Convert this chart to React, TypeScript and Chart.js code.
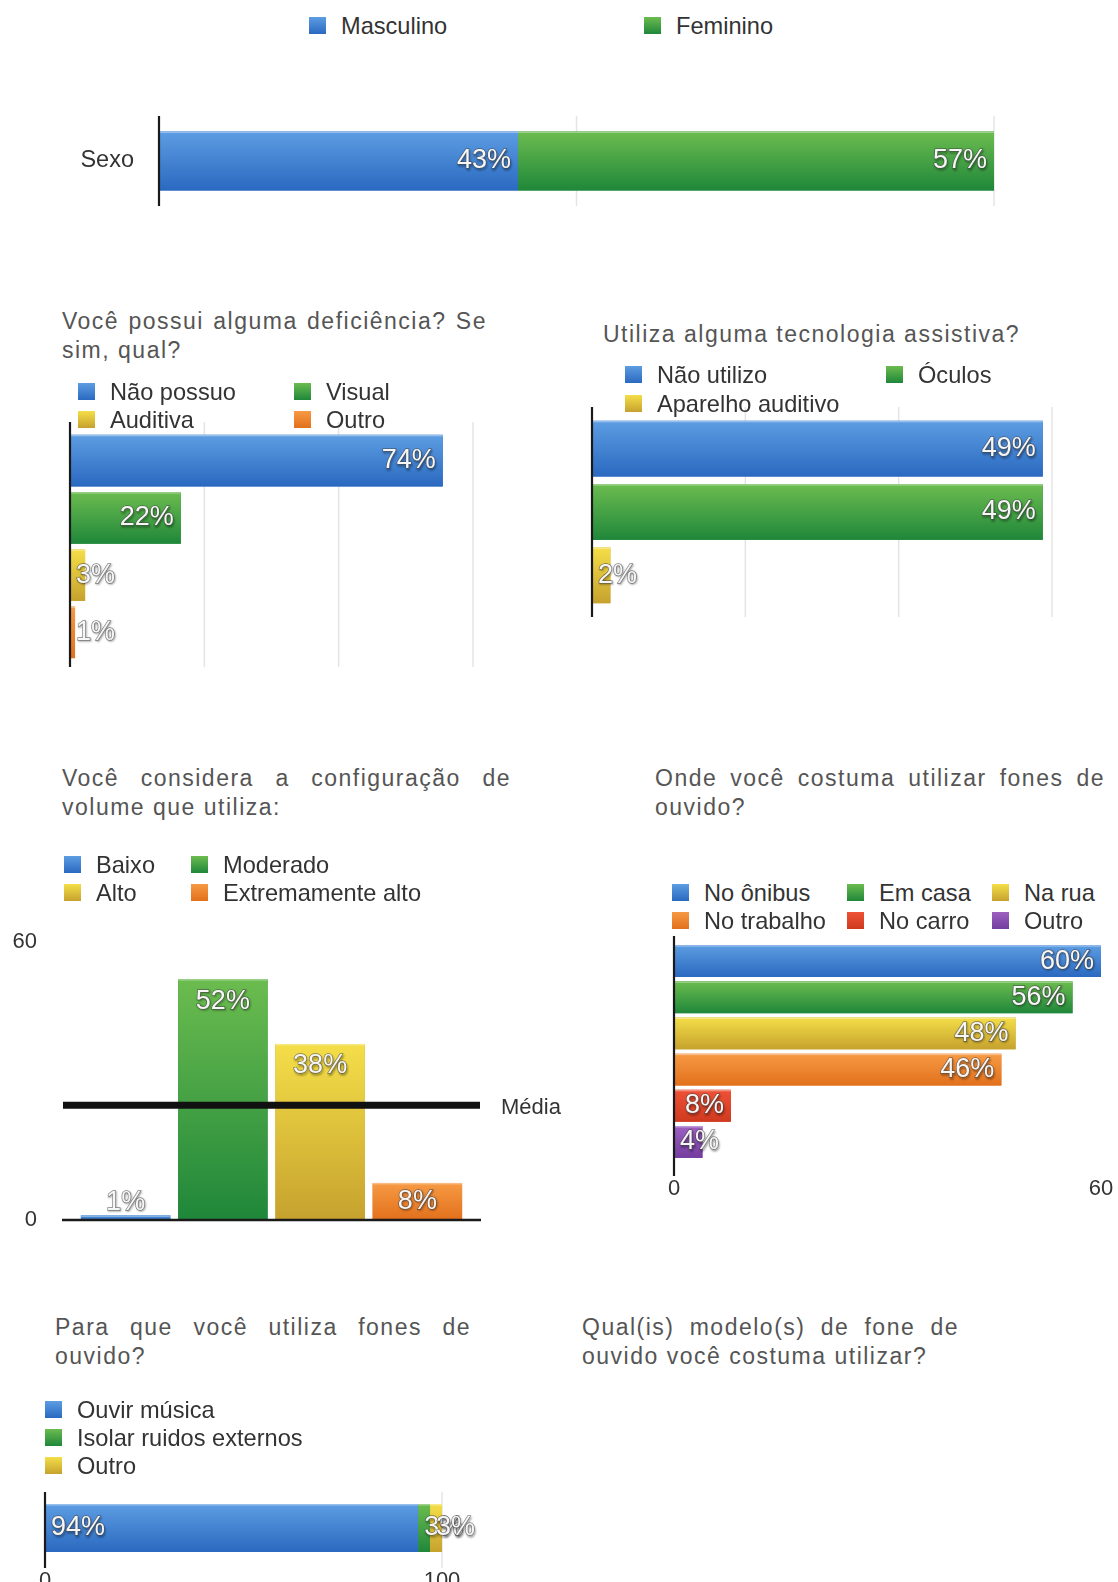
import React, { useEffect, useRef } from 'react';
import { Chart, registerables } from 'chart.js';

Chart.register(...registerables);

const FONT = '"Liberation Sans", Arial, Helvetica, sans-serif';

// ---------------- data ----------------
const sexoCategories = ['Sexo'];
const sexoSeries = ['Masculino', 'Feminino'];
const sexoValues = [43, 57];
const sexoGrid = [50, 100];

const deficienciaCategories = ['Não possuo', 'Visual', 'Auditiva', 'Outro'];
const deficienciaValues = [74, 22, 3, 1];
const deficienciaMax = 80;
const deficienciaGrid = [26.667, 53.333, 80];

const tecnologiaCategories = ['Não utilizo', 'Óculos', 'Aparelho auditivo'];
const tecnologiaValues = [49, 49, 2];
const tecnologiaMax = 50;
const tecnologiaGrid = [16.667, 33.333, 50];

const volumeCategories = ['Baixo', 'Moderado', 'Alto', 'Extremamente alto'];
const volumeValues = [1, 52, 38, 8];
const volumeMedia = 24.75;
const volumeMediaLabel = 'Média';
const volumeTicks = [0, 60];

const ondeCategories = ['No ônibus', 'Em casa', 'Na rua', 'No trabalho', 'No carro', 'Outro'];
const ondeValues = [60, 56, 48, 46, 8, 4];
const ondeTicks = [0, 60];

const paraQueCategories = ['Para que'];
const paraQueSeries = ['Ouvir música', 'Isolar ruidos externos', 'Outro'];
const paraQueValues = [94, 3, 3];
const paraQueTicks = [0, 100];
const paraQueGrid = [100];

// ---------------- colours ----------------
type Grad = [string, string];
const BLUE: Grad = ['#5d9de2', '#2a69c0'];
const GREEN: Grad = ['#6cbc4f', '#1f873a'];
const YELLOW: Grad = ['#f4de48', '#c6a22e'];
const ORANGE: Grad = ['#f79a44', '#e2701c'];
const RED: Grad = ['#ee5236', '#cf3a1f'];
const PURPLE: Grad = ['#9d60c0', '#733d9f'];
const mid = (g: Grad) => g[1];

// ---------------- plugin ----------------
type SurveyCfg = {
  grid?: number[];
  gridExt?: [number, number];
  axisExt?: [number, number];
  labels?: 'end' | 'start' | 'top';
  baselineExt?: number;
  media?: { value: number; label: string; ext: number; labelX: number };
};

function rectOf(el: any) {
  const p = el.getProps(['x', 'y', 'base', 'width', 'height', 'horizontal'], true);
  if (p.horizontal) {
    return {
      left: Math.min(p.x, p.base),
      right: Math.max(p.x, p.base),
      top: p.y - p.height / 2,
      bottom: p.y + p.height / 2,
    };
  }
  return {
    left: p.x - p.width / 2,
    right: p.x + p.width / 2,
    top: Math.min(p.y, p.base),
    bottom: Math.max(p.y, p.base),
  };
}

function drawValue(ctx: CanvasRenderingContext2D, text: string, x: number, y: number, align: CanvasTextAlign) {
  ctx.save();
  ctx.font = `27px ${FONT}`;
  ctx.textAlign = align;
  ctx.textBaseline = 'middle';
  ctx.shadowColor = 'rgba(0,0,0,0.55)';
  ctx.shadowBlur = 2;
  ctx.shadowOffsetX = 1;
  ctx.shadowOffsetY = 1.5;
  ctx.lineWidth = 1.4;
  ctx.strokeStyle = 'rgba(70,70,70,0.65)';
  ctx.strokeText(text, x, y);
  ctx.shadowColor = 'transparent';
  ctx.fillStyle = '#f6f6f6';
  ctx.fillText(text, x, y);
  ctx.restore();
}

function makePlugin(cfg: SurveyCfg) {
  return {
    id: 'survey',
    beforeDatasetsDraw(chart: any) {
      const { ctx, chartArea: a } = chart;
      if (cfg.grid) {
        const xs = chart.scales.x;
        const ext = cfg.gridExt || [0, 0];
        ctx.save();
        ctx.strokeStyle = '#e4e4e4';
        ctx.lineWidth = 1.5;
        cfg.grid.forEach((v) => {
          const px = xs.getPixelForValue(v);
          ctx.beginPath();
          ctx.moveTo(px, a.top - ext[0]);
          ctx.lineTo(px, a.bottom + ext[1]);
          ctx.stroke();
        });
        ctx.restore();
      }
    },
    afterDatasetsDraw(chart: any) {
      const { ctx, chartArea: a } = chart;
      // glossy gradient fill of every bar
      chart.data.datasets.forEach((ds: any, di: number) => {
        const meta = chart.getDatasetMeta(di);
        meta.data.forEach((el: any, i: number) => {
          const r = rectOf(el);
          const g: Grad = ds.grads[i] || ds.grads[0];
          const grad = ctx.createLinearGradient(0, r.top, 0, r.bottom);
          grad.addColorStop(0, g[0]);
          grad.addColorStop(1, g[1]);
          ctx.save();
          ctx.fillStyle = grad;
          ctx.fillRect(r.left, r.top, r.right - r.left, r.bottom - r.top);
          ctx.fillStyle = 'rgba(255,255,255,0.35)';
          ctx.fillRect(r.left, r.top, r.right - r.left, 1.5);
          ctx.restore();
        });
      });
      // vertical axis line
      if (cfg.axisExt) {
        ctx.save();
        ctx.strokeStyle = '#1a1a1a';
        ctx.lineWidth = 2.2;
        ctx.beginPath();
        ctx.moveTo(a.left, a.top - cfg.axisExt[0]);
        ctx.lineTo(a.left, a.bottom + cfg.axisExt[1]);
        ctx.stroke();
        ctx.restore();
      }
      // horizontal baseline
      if (cfg.baselineExt !== undefined) {
        const y0 = chart.scales.y.getPixelForValue(0);
        ctx.save();
        ctx.strokeStyle = '#1a1a1a';
        ctx.lineWidth = 2.5;
        ctx.beginPath();
        ctx.moveTo(a.left - cfg.baselineExt, y0);
        ctx.lineTo(a.right + cfg.baselineExt, y0);
        ctx.stroke();
        ctx.restore();
      }
      // mean line
      if (cfg.media) {
        const m = cfg.media;
        const ym = chart.scales.y.getPixelForValue(m.value);
        ctx.save();
        ctx.strokeStyle = '#111';
        ctx.lineWidth = 7;
        ctx.beginPath();
        ctx.moveTo(a.left - m.ext, ym);
        ctx.lineTo(a.right + m.ext, ym);
        ctx.stroke();
        ctx.fillStyle = '#333';
        ctx.font = `22px ${FONT}`;
        ctx.textAlign = 'left';
        ctx.textBaseline = 'middle';
        ctx.fillText(m.label, m.labelX, ym + 3);
        ctx.restore();
      }
      // value labels
      if (cfg.labels) {
        chart.data.datasets.forEach((ds: any, di: number) => {
          const meta = chart.getDatasetMeta(di);
          meta.data.forEach((el: any, i: number) => {
            const r = rectOf(el);
            const text = `${ds.data[i]}%`;
            ctx.save();
            ctx.font = `27px ${FONT}`;
            const w = ctx.measureText(text).width;
            ctx.restore();
            const cy = (r.top + r.bottom) / 2;
            if (cfg.labels === 'end') {
              if (w + 12 <= r.right - r.left) drawValue(ctx, text, r.right - 7, cy, 'right');
              else drawValue(ctx, text, r.left + 6, cy, 'left');
            } else if (cfg.labels === 'start') {
              drawValue(ctx, text, r.left + 6, cy, 'left');
            } else {
              const h = r.bottom - r.top;
              const y = h >= 30 ? r.top + Math.min(22, h / 2) : r.top - 13;
              drawValue(ctx, text, (r.left + r.right) / 2, y, 'center');
            }
          });
        });
      }
    },
  };
}

const baseOptions = {
  responsive: false,
  maintainAspectRatio: false,
  animation: false as const,
  events: [] as any[],
};

const tickFont = { family: FONT, size: 22 };
const noPad = (s: any) => {
  s.paddingTop = 0;
  s.paddingBottom = 0;
  s.paddingLeft = 0;
  s.paddingRight = 0;
};

// ---------------- chart configs ----------------
function sexoConfig(): any {
  const grads = [BLUE, GREEN];
  return {
    type: 'bar',
    data: {
      labels: sexoCategories,
      datasets: sexoSeries.map((s, i) => ({
        label: s,
        data: [sexoValues[i]],
        backgroundColor: mid(grads[i]),
        grads: [grads[i]],
        borderWidth: 0,
        barPercentage: 0.655,
        categoryPercentage: 1,
      })),
    },
    options: {
      ...baseOptions,
      indexAxis: 'y',
      layout: { padding: { top: 16, bottom: 19, left: 0, right: 124 } },
      scales: {
        x: { stacked: true, min: 0, max: 100, display: false },
        y: {
          stacked: true,
          grid: { display: false },
          border: { display: false },
          ticks: { font: { family: FONT, size: 23.5 }, color: '#333', padding: 17 },
          afterFit: (s: any) => { s.width = 159; noPad(s); },
        },
      },
      plugins: { legend: { display: false }, tooltip: { enabled: false } },
    },
    plugins: [makePlugin({ grid: sexoGrid, axisExt: [0, 0], labels: 'end' })],
  };
}

function singleHBar(categories: string[], values: number[], grads: Grad[], max: number, padding: any, bar: number): any {
  return {
    type: 'bar',
    data: {
      labels: categories,
      datasets: [{
        label: 'valores',
        data: values,
        backgroundColor: grads.map(mid),
        grads,
        borderWidth: 0,
        barPercentage: bar,
        categoryPercentage: 1,
      }],
    },
    options: {
      ...baseOptions,
      indexAxis: 'y',
      layout: { padding },
      scales: {
        x: { min: 0, max, display: false },
        y: { display: false },
      },
      plugins: { legend: { display: false }, tooltip: { enabled: false } },
    },
  };
}

function deficienciaConfig(): any {
  const c = singleHBar(deficienciaCategories, deficienciaValues, [BLUE, GREEN, YELLOW, ORANGE], deficienciaMax,
    { top: 27, bottom: 24, left: 70, right: 87 }, 0.9);
  c.plugins = [makePlugin({ grid: deficienciaGrid, gridExt: [10, 6], axisExt: [10, 6], labels: 'end' })];
  return c;
}

function tecnologiaConfig(): any {
  const c = singleHBar(tecnologiaCategories, tecnologiaValues, [BLUE, GREEN, YELLOW], tecnologiaMax,
    { top: 20, bottom: 30, left: 32, right: 66 }, 0.88);
  c.plugins = [makePlugin({ grid: tecnologiaGrid, gridExt: [10, 10], axisExt: [10, 10], labels: 'end' })];
  return c;
}

function volumeConfig(): any {
  const grads = [BLUE, GREEN, YELLOW, ORANGE];
  return {
    type: 'bar',
    data: {
      labels: volumeCategories,
      datasets: [{
        label: 'volume',
        data: volumeValues,
        backgroundColor: grads.map(mid),
        grads,
        borderWidth: 0,
        barPercentage: 0.92,
        categoryPercentage: 1,
      }],
    },
    options: {
      ...baseOptions,
      layout: { padding: { top: 42, bottom: 20, left: 0, right: 114 } },
      scales: {
        x: { display: false },
        y: {
          min: 0,
          max: 60,
          grid: { display: false },
          border: { display: false },
          ticks: { font: tickFont, color: '#333', padding: 32 },
          afterBuildTicks: (s: any) => { s.ticks = volumeTicks.map((v) => ({ value: v })); },
          afterFit: (s: any) => { s.width = 77; noPad(s); },
        },
      },
      plugins: { legend: { display: false }, tooltip: { enabled: false } },
    },
    plugins: [makePlugin({
      labels: 'top',
      baselineExt: 15,
      media: { value: volumeMedia, label: volumeMediaLabel, ext: 14, labelX: 501 },
    })],
  };
}

function ondeConfig(): any {
  const grads = [BLUE, GREEN, YELLOW, ORANGE, RED, PURPLE];
  const H = 310;
  return {
    type: 'bar',
    data: {
      labels: ondeCategories,
      datasets: [{
        label: 'onde',
        data: ondeValues,
        backgroundColor: grads.map(mid),
        grads,
        borderWidth: 0,
        barPercentage: 0.88,
        categoryPercentage: 1,
      }],
    },
    options: {
      ...baseOptions,
      indexAxis: 'y',
      layout: { padding: { top: 34, bottom: 0, left: 44, right: 17 } },
      scales: {
        x: {
          min: 0,
          max: 60,
          grid: { display: false },
          border: { display: false },
          ticks: { font: tickFont, color: '#333', padding: 8 },
          afterBuildTicks: (s: any) => { s.ticks = ondeTicks.map((v) => ({ value: v })); },
          afterFit: (s: any) => { s.height = H - 251; noPad(s); },
        },
        y: { display: false },
      },
      plugins: { legend: { display: false }, tooltip: { enabled: false } },
    },
    plugins: [makePlugin({ axisExt: [7, 16], labels: 'end' })],
  };
}

function paraQueConfig(): any {
  const grads = [BLUE, GREEN, YELLOW];
  const H = 110;
  return {
    type: 'bar',
    data: {
      labels: paraQueCategories,
      datasets: paraQueSeries.map((s, i) => ({
        label: s,
        data: [paraQueValues[i]],
        backgroundColor: mid(grads[i]),
        grads: [grads[i]],
        borderWidth: 0,
        barPercentage: 0.8,
        categoryPercentage: 1,
      })),
    },
    options: {
      ...baseOptions,
      indexAxis: 'y',
      layout: { padding: { top: 26, bottom: 0, left: 45, right: 118 } },
      scales: {
        x: {
          stacked: true,
          min: 0,
          max: 100,
          grid: { display: false },
          border: { display: false },
          ticks: { font: tickFont, color: '#333', padding: 2 },
          afterBuildTicks: (s: any) => { s.ticks = paraQueTicks.map((v) => ({ value: v })); },
          afterFit: (s: any) => { s.height = H - 86; noPad(s); },
        },
        y: { stacked: true, display: false },
      },
      plugins: { legend: { display: false }, tooltip: { enabled: false } },
    },
    plugins: [makePlugin({ grid: paraQueGrid, gridExt: [6, 10], axisExt: [6, 10], labels: 'start' })],
  };
}

// ---------------- components ----------------
function ChartBox({ left, top, width, height, make }: { left: number; top: number; width: number; height: number; make: () => any }) {
  const ref = useRef<HTMLCanvasElement>(null);
  useEffect(() => {
    const chart = new Chart(ref.current as HTMLCanvasElement, make());
    return () => chart.destroy();
  }, []);
  return (
    <canvas
      ref={ref}
      width={width}
      height={height}
      style={{ position: 'absolute', left, top, width, height }}
    />
  );
}

function Title({ x, y, width, lines }: { x: number; y: number; width?: number; lines: string[] }) {
  return (
    <>
      {lines.map((t, i) => {
        const justify = width !== undefined && i < lines.length - 1;
        return (
          <div
            key={i}
            style={{
              position: 'absolute',
              left: x,
              top: y - 14 + i * 29,
              width: width ?? 540,
              font: `23px ${FONT}`,
              letterSpacing: '1.5px',
              lineHeight: '29px',
              color: '#555',
              whiteSpace: justify ? 'normal' : 'nowrap',
              textAlign: justify ? 'justify' : 'left',
              textAlignLast: justify ? 'justify' : 'left',
            } as any}
          >
            {t}
          </div>
        );
      })}
    </>
  );
}

function LegendItem({ x, y, g, label }: { x: number; y: number; g: Grad; label: string }) {
  return (
    <>
      <div
        style={{
          position: 'absolute',
          left: x,
          top: y - 9,
          width: 17,
          height: 17,
          background: `linear-gradient(${g[0]}, ${g[1]})`,
        }}
      />
      <div
        style={{
          position: 'absolute',
          left: x + 32,
          top: y - 13,
          font: `23.6px ${FONT}`,
          lineHeight: '26px',
          color: '#333',
          whiteSpace: 'nowrap',
        }}
      >
        {label}
      </div>
    </>
  );
}

export default function App() {
  return (
    <div
      style={{
        position: 'absolute',
        left: 0,
        top: 0,
        width: 1118,
        height: 1582,
        overflow: 'hidden',
        background: '#ffffff',
        fontFamily: FONT,
      }}
    >
      <ChartBox left={0} top={100} width={1118} height={125} make={sexoConfig} />
      <ChartBox left={0} top={405} width={560} height={280} make={deficienciaConfig} />
      <ChartBox left={560} top={397} width={558} height={240} make={tecnologiaConfig} />
      <ChartBox left={0} top={900} width={580} height={340} make={volumeConfig} />
      <ChartBox left={630} top={909} width={488} height={310} make={ondeConfig} />
      <ChartBox left={0} top={1472} width={560} height={110} make={paraQueConfig} />

      {/* Sexo legend */}
      <LegendItem x={309} y={26} g={BLUE} label={sexoSeries[0]} />
      <LegendItem x={644} y={26} g={GREEN} label={sexoSeries[1]} />

      {/* Deficiência */}
      <Title x={62} y={321} width={425} lines={['Você possui alguma deficiência? Se', 'sim, qual?']} />
      <LegendItem x={78} y={392} g={BLUE} label={deficienciaCategories[0]} />
      <LegendItem x={294} y={392} g={GREEN} label={deficienciaCategories[1]} />
      <LegendItem x={78} y={420} g={YELLOW} label={deficienciaCategories[2]} />
      <LegendItem x={294} y={420} g={ORANGE} label={deficienciaCategories[3]} />

      {/* Tecnologia */}
      <Title x={603} y={334} lines={['Utiliza alguma tecnologia assistiva?']} />
      <LegendItem x={625} y={375} g={BLUE} label={tecnologiaCategories[0]} />
      <LegendItem x={886} y={375} g={GREEN} label={tecnologiaCategories[1]} />
      <LegendItem x={625} y={404} g={YELLOW} label={tecnologiaCategories[2]} />

      {/* Volume */}
      <Title x={62} y={778} width={449} lines={['Você considera a configuração de', 'volume que utiliza:']} />
      <LegendItem x={64} y={865} g={BLUE} label={volumeCategories[0]} />
      <LegendItem x={191} y={865} g={GREEN} label={volumeCategories[1]} />
      <LegendItem x={64} y={893} g={YELLOW} label={volumeCategories[2]} />
      <LegendItem x={191} y={893} g={ORANGE} label={volumeCategories[3]} />

      {/* Onde */}
      <Title x={655} y={778} width={450} lines={['Onde você costuma utilizar fones de', 'ouvido?']} />
      <LegendItem x={672} y={893} g={BLUE} label={ondeCategories[0]} />
      <LegendItem x={847} y={893} g={GREEN} label={ondeCategories[1]} />
      <LegendItem x={992} y={893} g={YELLOW} label={ondeCategories[2]} />
      <LegendItem x={672} y={921} g={ORANGE} label={ondeCategories[3]} />
      <LegendItem x={847} y={921} g={RED} label={ondeCategories[4]} />
      <LegendItem x={992} y={921} g={PURPLE} label={ondeCategories[5]} />

      {/* Para que */}
      <Title x={55} y={1327} width={416} lines={['Para que você utiliza fones de', 'ouvido?']} />
      <LegendItem x={45} y={1410} g={BLUE} label={paraQueSeries[0]} />
      <LegendItem x={45} y={1438} g={GREEN} label={paraQueSeries[1]} />
      <LegendItem x={45} y={1466} g={YELLOW} label={paraQueSeries[2]} />

      {/* Modelos */}
      <Title x={582} y={1327} width={377} lines={['Qual(is) modelo(s) de fone de', 'ouvido você costuma utilizar?']} />
    </div>
  );
}
